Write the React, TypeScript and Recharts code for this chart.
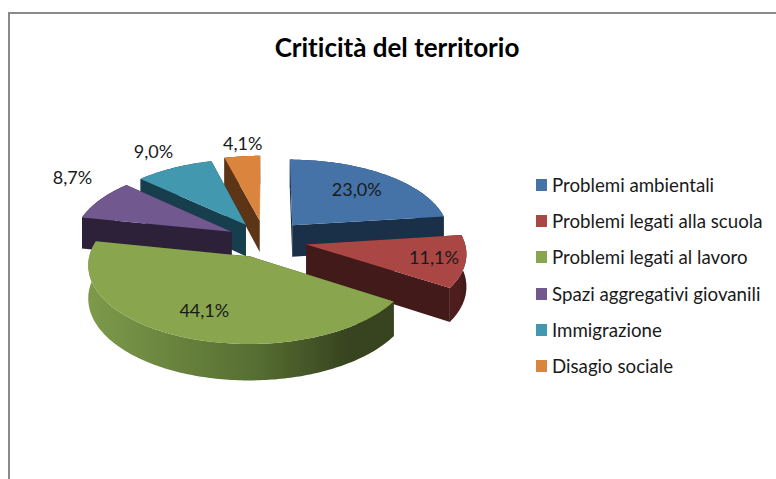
import { PieChart, Pie, Legend } from "recharts";

const CATEGORIES = [
  "Problemi ambientali",
  "Problemi legati alla scuola",
  "Problemi legati al lavoro",
  "Spazi aggregativi giovanili",
  "Immigrazione",
  "Disagio sociale",
];
const VALUES = [23.0, 11.1, 44.1, 8.7, 9.0, 4.1];

const TOP_COLORS = ["#4572A7", "#AA4643", "#89A54E", "#71588F", "#4198AF", "#DB843D"];
const WALL_COLORS = ["#1A3048", "#431A1A", "#37441F", "#2C2138", "#173E4C", "#5B3515"];
const RIM_LIGHT = ["#1A3048", "#4D1E1D", "#7D9A4A", "#2C2138", "#173E4C", "#5B3515"];

// back to front, the slices overlap in this order
const PAINT_ORDER = [5, 4, 3, 0, 1, 2];

// how far each slice is pulled out of the pie, in px
const EXPLODE = [42, 42, 37, 38, 38, 42];

// radial position of each percent label (1 = rim), then a small nudge in px
const LABEL_RADIUS = [0.63, 0.83, 0.78, 1.22, 1.22, 1.22];
const LABEL_NUDGE = [
  [4, -4],
  [-4, -2],
  [6, -8],
  [0, -16],
  [-6, -5],
  [4, -1],
];

const rows = CATEGORIES.map((name, i) => ({ name, value: VALUES[i], fill: TOP_COLORS[i] }));

const CX = 265;
const CY = 240;
const RADIUS = 158;
const TILT = 0.475; // vertical squash of the disc
const PERSPECTIVE = 0.1;
const DEPTH = 32;
const RAD = Math.PI / 180;
const FONT = "Lato, 'Open Sans', sans-serif";

type Pt = [number, number];

// recharts gives math angles, sin/cos below are taken clockwise from the top
function project(
  explode: number,
  mid: number,
  clock: number,
  r: number,
  z: number,
  cx: number,
  cy: number
): Pt {
  const X = explode * Math.sin(mid * RAD) + r * Math.sin(clock * RAD);
  const Y = explode * Math.cos(mid * RAD) + r * Math.cos(clock * RAD);
  const s = 1 / (1 + (PERSPECTIVE * Y) / RADIUS);
  return [cx + X * s, cy - Y * TILT * s + z * s];
}

const toPath = (pts: Pt[]) =>
  "M" + pts.map((p) => `${p[0].toFixed(1)},${p[1].toFixed(1)}`).join("L") + "Z";

function Slice3D(props: any) {
  const { cx, cy, startAngle, endAngle, outerRadius, index } = props;
  const a0 = 90 - startAngle;
  const a1 = 90 - endAngle;
  const mid = (a0 + a1) / 2;
  const ex = EXPLODE[index];

  const arc: number[] = [];
  const steps = Math.max(4, Math.ceil(a1 - a0));
  for (let i = 0; i <= steps; i++) arc.push(a0 + ((a1 - a0) * i) / steps);

  const top = arc.map((a) => project(ex, mid, a, outerRadius, 0, cx, cy));
  const bottom = arc.map((a) => project(ex, mid, a, outerRadius, DEPTH, cx, cy));
  const apexTop = project(ex, mid, 0, 0, 0, cx, cy);
  const apexBottom = project(ex, mid, 0, 0, DEPTH, cx, cy);

  const xs = top.map((p) => p[0]);
  const gradId = `rim-${index}`;

  return (
    <g>
      <defs>
        <linearGradient
          id={gradId}
          gradientUnits="userSpaceOnUse"
          x1={Math.min(...xs)}
          x2={Math.max(...xs)}
          y1={0}
          y2={0}
        >
          <stop offset="0" stopColor={RIM_LIGHT[index]} />
          <stop offset="0.55" stopColor={index === 2 ? "#566E32" : RIM_LIGHT[index]} />
          <stop offset="0.85" stopColor={WALL_COLORS[index]} />
          <stop offset="1" stopColor={WALL_COLORS[index]} />
        </linearGradient>
      </defs>
      <path d={toPath([apexTop, top[0], bottom[0], apexBottom])} fill={WALL_COLORS[index]} />
      <path
        d={toPath([apexTop, top[top.length - 1], bottom[bottom.length - 1], apexBottom])}
        fill={WALL_COLORS[index]}
      />
      <path d={toPath([...top, ...[...bottom].reverse()])} fill={`url(#${gradId})`} />
      <path d={toPath([apexTop, ...top])} fill={TOP_COLORS[index]} />
    </g>
  );
}

function renderLabel(props: any) {
  const { cx, cy, midAngle, outerRadius, index, value } = props;
  const clock = 90 - midAngle;
  const [x, y] = project(EXPLODE[index], clock, clock, outerRadius * LABEL_RADIUS[index], 0, cx, cy);
  return (
    <text
      x={x + LABEL_NUDGE[index][0]}
      y={y + LABEL_NUDGE[index][1]}
      textAnchor="middle"
      dominantBaseline="central"
      fill="#1a1a1a"
      fontFamily={FONT}
      fontSize={18}
    >
      {value.toFixed(1).replace(".", ",")}%
    </text>
  );
}

function LegendList({ payload }: any) {
  // every layered Pie reports its slices, keep one entry per category
  const items = CATEGORIES.map((name) =>
    (payload ?? []).find((entry: any) => entry.value === name)
  ).filter(Boolean);
  return (
    <div>
      {items.map((entry: any) => (
        <div
          key={entry.value}
          style={{
            height: 36.2,
            display: "flex",
            alignItems: "center",
            fontFamily: FONT,
            fontSize: 18.7,
            fontVariantLigatures: "none",
            color: "#1a1a1a",
            whiteSpace: "nowrap",
          }}
        >
          <span
            style={{
              width: 11,
              height: 12,
              marginRight: 5,
              background: entry.color,
              display: "inline-block",
            }}
          />
          {entry.value}
        </div>
      ))}
    </div>
  );
}

export default function App() {
  return (
    <div
      style={{
        position: "absolute",
        left: 0,
        top: 0,
        width: 776,
        height: 479,
        overflow: "hidden",
        background: "#fff",
      }}
    >
      <div
        style={{
          position: "absolute",
          left: 8,
          top: 12,
          width: 768,
          height: 467,
          borderLeft: "2px solid #8a8a8a",
          borderTop: "2px solid #8a8a8a",
        }}
      />
      <div
        style={{
          position: "absolute",
          left: 274,
          width: 246,
          top: 31,
          textAlign: "center",
          fontFamily: FONT,
          fontWeight: 700,
          fontSize: 26,
          fontVariantLigatures: "none",
          color: "#000",
          whiteSpace: "nowrap",
        }}
      >
        Criticità del territorio
      </div>
      <PieChart width={776} height={479} margin={{ top: 0, right: 0, bottom: 0, left: 0 }}>
        {PAINT_ORDER.map((idx) => (
          <Pie
            key={idx}
            data={rows}
            dataKey="value"
            nameKey="name"
            cx={CX}
            cy={CY}
            outerRadius={RADIUS}
            startAngle={90}
            endAngle={-270}
            stroke="none"
            legendType="none"
            isAnimationActive={false}
            shape={(p: any) => (p.index === idx ? <Slice3D {...p} /> : <g />)}
          />
        ))}
        <Pie
          data={rows}
          dataKey="value"
          nameKey="name"
          cx={CX}
          cy={CY}
          outerRadius={RADIUS}
          startAngle={90}
          endAngle={-270}
          stroke="none"
          legendType="square"
          isAnimationActive={false}
          labelLine={false}
          label={renderLabel}
          shape={() => <g />}
        />
        <Legend
          layout="vertical"
          content={<LegendList />}
          wrapperStyle={{ position: "absolute", left: 536, top: 167, width: 238 }}
        />
      </PieChart>
    </div>
  );
}
